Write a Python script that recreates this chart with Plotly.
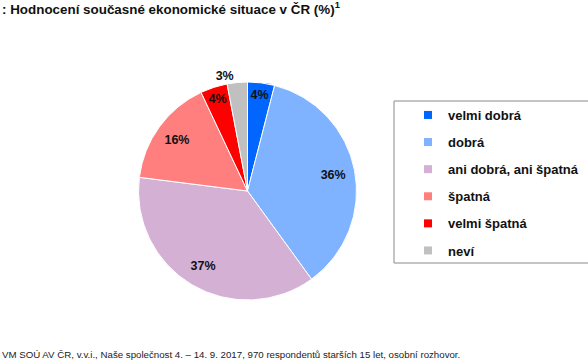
import plotly.graph_objects as go

categories = ["velmi dobrá", "dobrá", "ani dobrá, ani špatná", "špatná", "velmi špatná", "neví"]
values = [4, 36, 37, 16, 4, 3]
colors = ["#0066FF", "#7FB2FF", "#D4B0D4", "#FF7F7F", "#FF0000", "#C0C0C0"]
text_positions = ["inside", "inside", "inside", "inside", "inside", "outside"]

title_text = ": Hodnocení současné ekonomické situace v ČR (%)<sup>1</sup>"
footer_text = "VM SOÚ AV ČR, v.v.i., Naše společnost 4. – 14. 9. 2017, 970 respondentů starších 15 let, osobní rozhovor."

W, H = 588, 363
font_family = "Liberation Sans, Arial, sans-serif"
pie_domain = dict(x=[138 / W, 357 / W], y=[1 - 300 / H, 1 - 82 / H])

fig = go.Figure()
# visible pie
fig.add_trace(go.Pie(
    labels=categories, values=values,
    marker=dict(colors=colors, line=dict(color="white", width=1)),
    sort=False, direction="clockwise", rotation=0,
    textinfo="none", showlegend=False, hoverinfo="label+value",
    domain=pie_domain,
))
# transparent ring carrying the percentage labels (places them at ~0.8 r)
fig.add_trace(go.Pie(
    labels=categories, values=values, hole=0.6,
    marker=dict(colors=["rgba(0,0,0,0)"] * len(values), line=dict(width=0)),
    sort=False, direction="clockwise", rotation=0,
    texttemplate="<b>%{value}%</b>",
    textposition=text_positions,
    insidetextorientation="horizontal",
    textfont=dict(size=12.5, color="#111111", family=font_family),
    showlegend=False, hoverinfo="skip",
    domain=pie_domain,
))

for i, (cat, col) in enumerate(zip(categories, colors)):
    fig.add_trace(go.Scatter(
        x=[None], y=[None], mode="markers", name="<b>" + cat + "</b>",
        marker=dict(symbol="square", size=8, color=col),
        legendgroup="g%d" % i, showlegend=True,
    ))

fig.update_layout(
    width=W, height=H,
    margin=dict(l=0, r=0, t=0, b=0),
    paper_bgcolor="white", plot_bgcolor="white",
    font=dict(family=font_family, color="#111111"),
    xaxis=dict(visible=False), yaxis=dict(visible=False),
    uniformtext=dict(minsize=12.5, mode="show"),
    legend=dict(
        x=408 / W, y=1 - 100 / H, xanchor="left", yanchor="top",
        font=dict(size=13, color="#111111", family=font_family),
        tracegroupgap=7.2, bgcolor="rgba(0,0,0,0)", borderwidth=0,
    ),
    shapes=[dict(type="rect", xref="paper", yref="paper",
                 x0=394 / W, x1=1.02, y0=1 - 263 / H, y1=1 - 101 / H,
                 line=dict(color="#8a8a8a", width=1), fillcolor="rgba(0,0,0,0)")],
    annotations=[
        dict(text="<b>" + title_text + "</b>", x=0, y=1 + 2 / H, xref="paper", yref="paper",
             xanchor="left", yanchor="top", showarrow=False,
             font=dict(size=13.4, color="#111111", family=font_family)),
        dict(text=footer_text, x=0, y=1 - 354 / H, xref="paper", yref="paper",
             xanchor="left", yanchor="middle", showarrow=False,
             font=dict(size=9.7, color="#222222", family=font_family)),
    ],
)

fig.write_html("out.html", config={"displayModeBar": False},
               post_script="document.body.style.margin='0';document.body.style.overflow='hidden';")
